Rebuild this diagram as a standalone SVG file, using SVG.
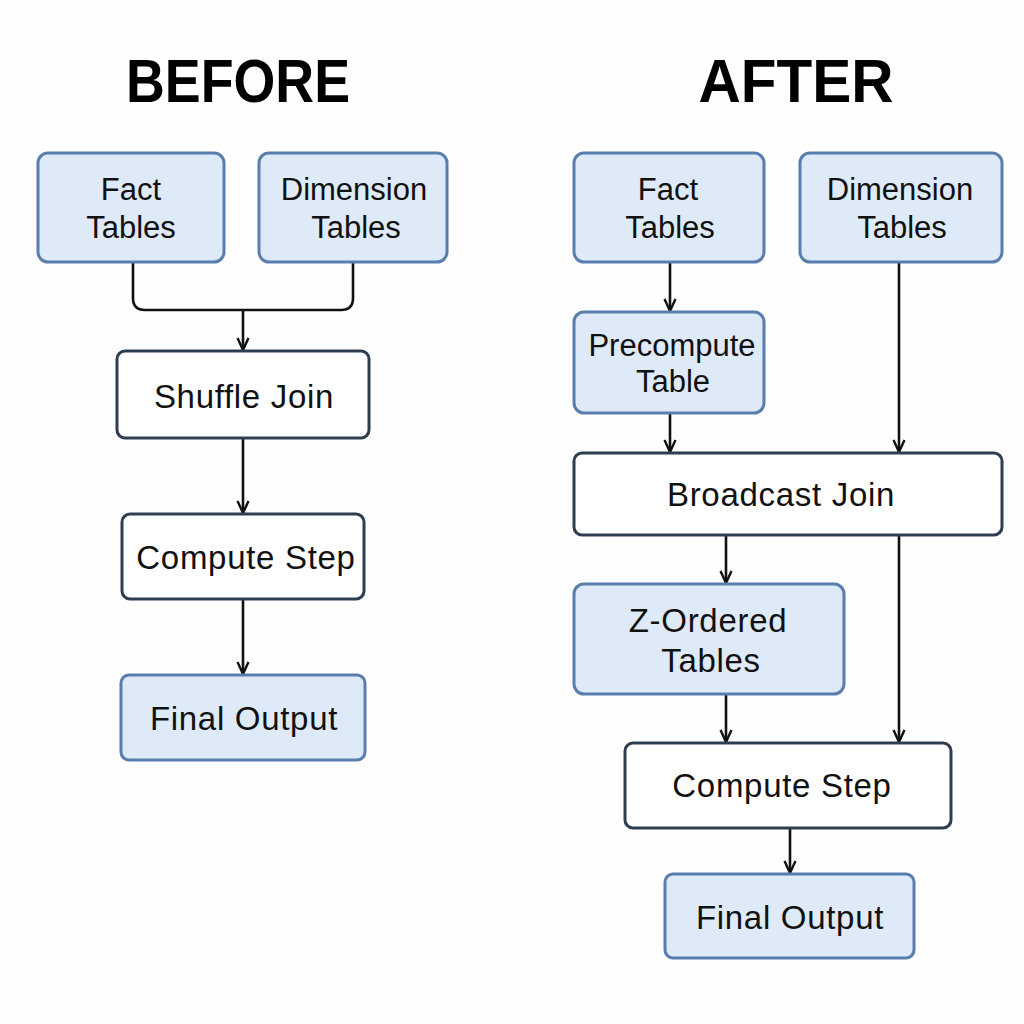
<svg xmlns="http://www.w3.org/2000/svg" width="1024" height="1024" viewBox="0 0 1024 1024">
<defs>
<style>
.blue{fill:#dfeaf8;stroke:#5a7db0;stroke-width:3}
.white{fill:#ffffff;stroke:#2e3e50;stroke-width:3}
.t{font-family:"Liberation Sans",Arial,sans-serif;font-size:33px;fill:#111;text-anchor:middle;letter-spacing:0.7px}
.s{font-size:31px;letter-spacing:0px}
.title{font-family:"Liberation Sans",Arial,sans-serif;font-weight:bold;font-size:62px;fill:#000;text-anchor:middle}
.c{fill:none;stroke:#111;stroke-width:2.6}
</style>
<marker id="ah" viewBox="0 0 14 14" refX="13" refY="7" markerWidth="14" markerHeight="14" markerUnits="userSpaceOnUse" orient="auto">
<path d="M1,1.5 L13,7 L1,12.5" fill="none" stroke="#111" stroke-width="2.4"/>
</marker>
</defs>
<rect width="1024" height="1024" fill="#fefefe"/>
<text class="title" x="238" y="102" textLength="224" lengthAdjust="spacingAndGlyphs">BEFORE</text>
<text class="title" x="796" y="102" textLength="195" lengthAdjust="spacingAndGlyphs">AFTER</text>

<g id="connectors">
<path class="c" d="M133,262 V298 Q133,310 145,310 H341 Q353,310 353,298 V262"/>
<path class="c" d="M243,310 V350" marker-end="url(#ah)"/>
<path class="c" d="M243,438 V513" marker-end="url(#ah)"/>
<path class="c" d="M243,599 V674" marker-end="url(#ah)"/>
<path class="c" d="M670,262 V311" marker-end="url(#ah)"/>
<path class="c" d="M670,413 V452" marker-end="url(#ah)"/>
<path class="c" d="M899,262 V452" marker-end="url(#ah)"/>
<path class="c" d="M726,535 V583" marker-end="url(#ah)"/>
<path class="c" d="M726,694 V742" marker-end="url(#ah)"/>
<path class="c" d="M899,535 V742" marker-end="url(#ah)"/>
<path class="c" d="M790,828 V873" marker-end="url(#ah)"/>
</g>

<g id="b-fact"><rect class="blue" x="38" y="153" width="186" height="109" rx="10"/><text class="t s" x="131" y="200">Fact</text><text class="t s" x="131" y="238">Tables</text></g>
<g id="b-dim"><rect class="blue" x="259" y="153" width="188" height="109" rx="10"/><text class="t s" x="354" y="200">Dimension</text><text class="t s" x="356" y="238">Tables</text></g>
<g id="b-shuffle"><rect class="white" x="117" y="351" width="252" height="87" rx="8"/><text class="t" x="244" y="408">Shuffle Join</text></g>
<g id="b-compute"><rect class="white" x="122" y="514" width="242" height="85" rx="8"/><text class="t" x="246" y="569">Compute Step</text></g>
<g id="b-final"><rect class="blue" x="121" y="675" width="244" height="85" rx="8"/><text class="t" x="244" y="730">Final Output</text></g>

<g id="a-fact"><rect class="blue" x="574" y="153" width="190" height="109" rx="10"/><text class="t s" x="668" y="200">Fact</text><text class="t s" x="670" y="238">Tables</text></g>
<g id="a-dim"><rect class="blue" x="800" y="153" width="202" height="109" rx="10"/><text class="t s" x="900" y="200">Dimension</text><text class="t s" x="902" y="238">Tables</text></g>
<g id="a-precompute"><rect class="blue" x="574" y="312" width="190" height="101" rx="10"/><text class="t s" x="672" y="356">Precompute</text><text class="t s" x="673" y="392">Table</text></g>
<g id="a-broadcast"><rect class="white" x="574" y="453" width="428" height="82" rx="8"/><text class="t" x="781" y="506">Broadcast  Join</text></g>
<g id="a-zorder"><rect class="blue" x="574" y="584" width="270" height="110" rx="10"/><text class="t" x="708" y="632">Z-Ordered</text><text class="t" x="711" y="672">Tables</text></g>
<g id="a-compute"><rect class="white" x="625" y="743" width="326" height="85" rx="8"/><text class="t" x="782" y="797">Compute Step</text></g>
<g id="a-final"><rect class="blue" x="665" y="874" width="249" height="84" rx="8"/><text class="t" x="790" y="929">Final Output</text></g>
</svg>
